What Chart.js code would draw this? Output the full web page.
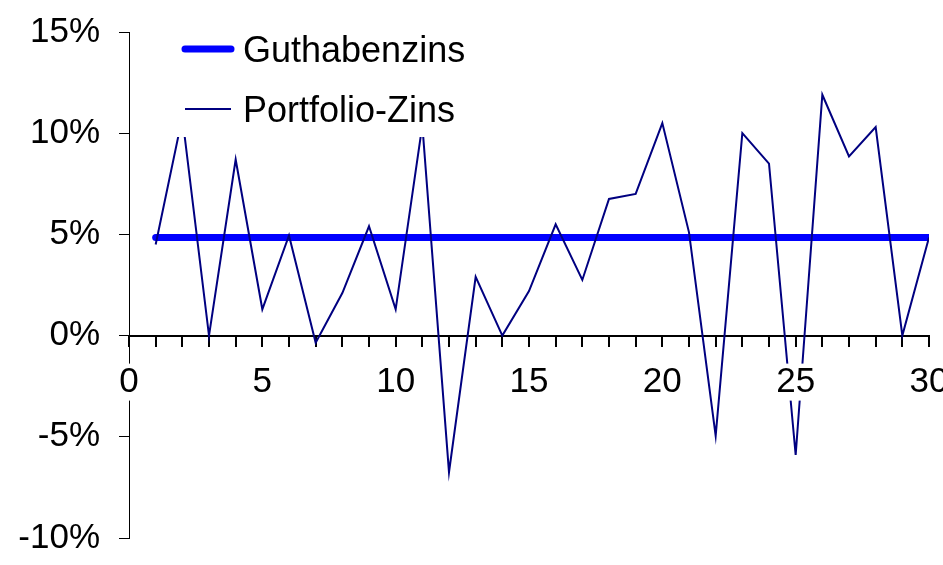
<!DOCTYPE html>
<html lang="de">
<head>
<meta charset="utf-8">
<title>Guthabenzins und Portfolio-Zins</title>
<script src="https://cdn.jsdelivr.net/npm/chart.js@4.4.1/dist/chart.umd.min.js"></script>
<style>
    html, body { margin: 0; padding: 0; background: #fff; }
    #wrap { width: 943px; height: 565px; }
</style>
</head>
<body>
<div id="wrap"><canvas id="chart" width="943" height="565"></canvas></div>
<script>
// --- Daten ---

const periods = [1, 2, 3, 4, 5, 6, 7, 8, 9, 10,
                 11, 12, 13, 14, 15, 16, 17, 18, 19, 20,
                 21, 22, 23, 24, 25, 26, 27, 28, 29, 30];

// Werte in Prozent
const guthabenzins = [4.85, 4.85, 4.85, 4.85, 4.85, 4.85, 4.85, 4.85, 4.85, 4.85,
                      4.85, 4.85, 4.85, 4.85, 4.85, 4.85, 4.85, 4.85, 4.85, 4.85,
                      4.85, 4.85, 4.85, 4.85, 4.85, 4.85, 4.85, 4.85, 4.85, 4.85];

const portfolioZins = [4.5, 10.8, 0.0, 8.7, 1.3, 4.95, -0.35, 2.1, 5.4, 1.3,
                       10.4, -6.75, 2.9, 0.0, 2.2, 5.5, 2.75, 6.75, 7.0, 10.5,
                       5.1, -4.95, 10.0, 8.5, -5.9, 11.9, 8.85, 10.3, 0.0, 4.85];

const yTicks = [-10, -5, 0, 5, 10, 15];
const xMin = 0;
const xMax = 30;
const xLabelStep = 5;

const fontFamily = '"Liberation Sans", Arial, Helvetica, sans-serif';

function toPoints(values) {
    return values.map((v, i) => ({ x: periods[i], y: v }));
}

// --- Legende (weißer Kasten über den Linien) ---

const legendBox = {
    id: 'legendBox',
    afterDatasetsDraw(chart) {
        const ctx = chart.ctx;
        const area = chart.chartArea;

        ctx.save();
        ctx.fillStyle = '#fff';
        ctx.fillRect(area.left + 6, 12, 345, 137 - 12);

        chart.data.datasets.forEach((ds, i) => {
            const y = 49 + i * 60;
            ctx.beginPath();
            ctx.strokeStyle = ds.borderColor;
            ctx.lineWidth = ds.borderWidth;
            ctx.lineCap = ds.borderCapStyle || 'butt';
            ctx.moveTo(185, y);
            ctx.lineTo(231, y);
            ctx.stroke();

            ctx.fillStyle = '#000';
            ctx.font = '36px ' + fontFamily;
            ctx.textAlign = 'left';
            ctx.textBaseline = 'middle';
            ctx.fillText(ds.label, 243, y + 3);
        });
        ctx.restore();
    }
};

// --- Diagramm ---

const chart = new Chart(document.getElementById('chart'), {
    type: 'line',
    data: {
        datasets: [
            {
                label: 'Guthabenzins',
                data: toPoints(guthabenzins),
                borderColor: '#0000ff',
                borderWidth: 7,
                borderCapStyle: 'round',
                pointRadius: 0,
                tension: 0,
                order: 1
            },
            {
                label: 'Portfolio-Zins',
                data: toPoints(portfolioZins),
                borderColor: '#000080',
                borderWidth: 2,
                pointRadius: 0,
                tension: 0,
                order: 0
            }
        ]
    },
    options: {
        responsive: false,
        animation: false,
        layout: {
            padding: { left: 0, right: 14, top: 32, bottom: 27 }
        },
        plugins: {
            legend: { display: false },
            tooltip: { enabled: false }
        },
        scales: {
            x: {
                type: 'linear',
                position: { y: 0 },
                min: xMin,
                max: xMax,
                border: { color: '#000', width: 2 },
                grid: {
                    drawOnChartArea: false,
                    drawTicks: true,
                    tickLength: 10,
                    color: '#000',
                    lineWidth: 2
                },
                ticks: {
                    z: 1,
                    stepSize: 1,
                    autoSkip: false,
                    maxRotation: 0,
                    padding: 19,
                    color: '#000',
                    font: { family: fontFamily, size: 35, lineHeight: 1 },
                    showLabelBackdrop: ctx => ctx.tick.value % xLabelStep === 0,
                    backdropColor: '#fff',
                    backdropPadding: { top: 1, bottom: 1, left: 2, right: 2 },
                    callback: v => (v % xLabelStep === 0 ? String(v) : '')
                },
                afterFit(scale) {
                    scale.paddingLeft = 0;
                    scale.paddingRight = 0;
                    scale.paddingTop = 0;
                    scale.paddingBottom = 0;
                }
            },
            y: {
                type: 'linear',
                position: 'left',
                min: yTicks[0],
                max: yTicks[yTicks.length - 1],
                border: { color: '#000', width: 1 },
                grid: {
                    drawOnChartArea: false,
                    drawTicks: true,
                    tickLength: 10,
                    color: '#000',
                    lineWidth: 1
                },
                ticks: {
                    stepSize: 5,
                    padding: 19,
                    color: '#000',
                    font: { family: fontFamily, size: 35 },
                    callback: v => v + '%'
                },
                afterFit(scale) {
                    scale.width = 129;
                    scale.paddingTop = 0;
                    scale.paddingBottom = 0;
                }
            }
        }
    },
    plugins: [legendBox]
});
</script>
</body>
</html>
